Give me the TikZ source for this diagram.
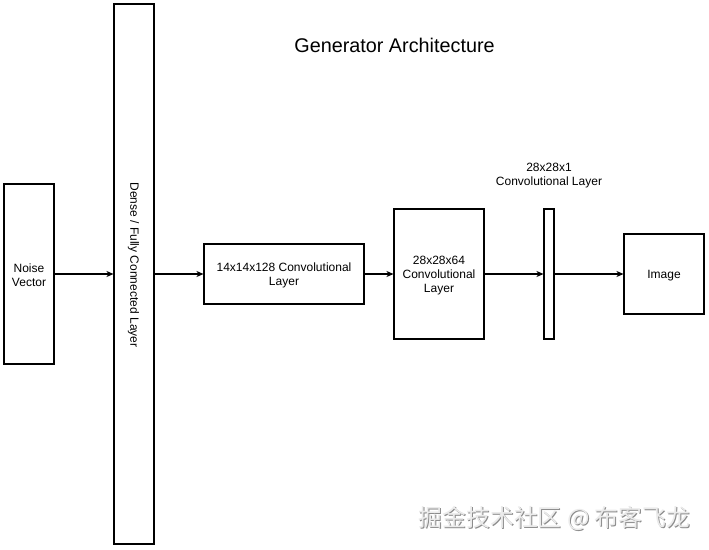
\documentclass[tikz,border=0pt]{standalone}
\usepackage{fontspec}
\setmainfont{Liberation Sans}
\newfontfamily\cjkfont{Noto Sans CJK SC}
\usetikzlibrary{arrows.meta}
\begin{document}
\begin{tikzpicture}[x=1pt,y=-1pt,
  layerbox/.style={draw=black,line width=1.05pt,fill=white,inner sep=0pt},
  conn/.style={line width=1.05pt,-{Stealth[length=7pt,width=6pt,inset=2pt]}},
  lbl/.style={font=\fontsize{12}{14}\selectfont,align=center,inner sep=0pt}]
\useasboundingbox[fill=white] (0,0) rectangle (709,549);
\node[layerbox,minimum width=50pt,minimum height=180pt] (noise) at (29,274) {};
\node[layerbox,minimum width=40pt,minimum height=540pt] (dense) at (134,274) {};
\node[layerbox,minimum width=160pt,minimum height=60pt] (c128) at (284,274) {};
\node[layerbox,minimum width=90pt,minimum height=130pt] (c64) at (439,274) {};
\node[layerbox,minimum width=10pt,minimum height=130pt] (c1) at (549,274) {};
\node[layerbox,minimum width=80pt,minimum height=80pt] (img) at (664,274) {};
\node[lbl] (noisetext) at ([yshift=-1.5pt]noise.center) {Noise\\Vector};
\node[lbl,rotate=-90] (densetext) at (133.5,265) {Dense / Fully Connected Layer};
\node[lbl] (c128text) at ([yshift=-1.5pt]c128.center) {14x14x128 Convolutional\\Layer};
\node[lbl] (c64text) at ([yshift=-1.5pt]c64.center) {28x28x64\\Convolutional\\Layer};
\node[lbl] (c1label) at (549,175.5) {28x28x1\\Convolutional Layer};
\node[lbl] (imgtext) at ([yshift=-1.5pt]img.center) {Image};
\node[font=\fontsize{19.8}{22}\selectfont,inner sep=0pt] (title) at (394.5,45.5) {Generator Architecture};
\draw[conn] (noise.east) -- (dense.west);
\draw[conn] (dense.east |- c128.west) -- (c128.west);
\draw[conn] (c128.east) -- (c64.west);
\draw[conn] (c64.east) -- (c1.west);
\draw[conn] (c1.east) -- (img.west);
\node[font=\cjkfont\fontsize{23.8}{25}\selectfont,text=black!45,inner sep=0pt] (wmshadow) at (555.5,519.5) {掘金技术社区 @ 布客飞龙};
\node[font=\cjkfont\fontsize{23.8}{25}\selectfont,text=black!8,inner sep=0pt] (wm) at (554.5,518.5) {掘金技术社区 @ 布客飞龙};
\end{tikzpicture}
\end{document}
